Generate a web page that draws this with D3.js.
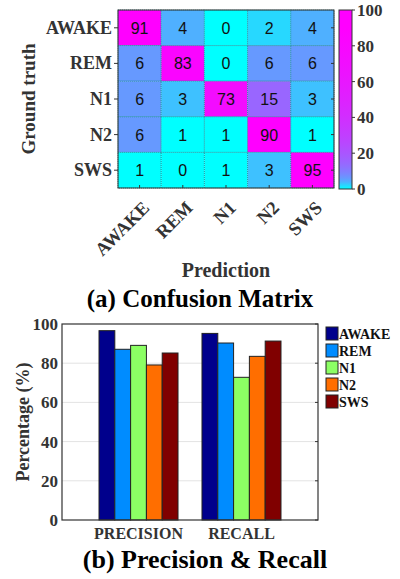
<!DOCTYPE html>
<html>
<head>
<meta charset="utf-8">
<script src="https://cdn.jsdelivr.net/npm/d3@7"></script>
<style>
  body { margin: 0; background: #fff; }
  text { font-family: "Liberation Serif", "Times New Roman", serif; font-weight: bold; }
</style>
</head>
<body>
<div id="chart"></div>
<script>
// Data
var stages = ["AWAKE", "REM", "N1", "N2", "SWS"];
var confusion = [
  [91, 4, 0, 2, 4],
  [6, 83, 0, 6, 6],
  [6, 3, 73, 15, 3],
  [6, 1, 1, 90, 1],
  [1, 0, 1, 3, 95]
];
var colorTicks = [0, 20, 40, 60, 80, 100];
var metrics = ["PRECISION", "RECALL"];
var precision = [96.6, 87.1, 89.1, 79.1, 85.2];
var recall = [95.2, 90.3, 72.8, 83.5, 91.3];
var barColors = ["#00008c", "#008cff", "#8cff64", "#ff6e00", "#800000"];
var pctTicks = [0, 20, 40, 60, 80, 100];

var svg = d3.select("#chart").append("svg")
  .attr("width", 400).attr("height", 579);

// ---- (a) confusion matrix ----
var cm = { left: 118, top: 10, right: 334, bottom: 188 };
var x = d3.scaleBand().domain(stages).range([cm.left, cm.right]);
var y = d3.scaleBand().domain(stages).range([cm.top, cm.bottom]);

// cool colormap on a log scale (small counts already bluish)
var logT = d3.scaleLog().domain([1, 90]).range([0, 1]).clamp(true);
var color = function(v) {
  var t = v <= 1 ? 0 : logT(v);
  return d3.interpolateRgb("#00ffff", "#ff00ff")(t);
};

var cells = [];
confusion.forEach(function(row, i) {
  row.forEach(function(v, j) { cells.push({ r: stages[i], c: stages[j], v: v }); });
});

var gm = svg.append("g");
gm.selectAll("rect.cell").data(cells).enter().append("rect")
  .attr("class", "cell")
  .attr("x", function(d) { return x(d.c); })
  .attr("y", function(d) { return y(d.r); })
  .attr("width", x.bandwidth())
  .attr("height", y.bandwidth())
  .attr("fill", function(d) { return color(d.v); })
  .attr("stroke", "#1f8f9a")
  .attr("stroke-width", 0.8)
  .attr("stroke-dasharray", "1,1");

gm.selectAll("text.val").data(cells).enter().append("text")
  .attr("class", "val")
  .attr("x", function(d) { return x(d.c) + x.bandwidth() / 2; })
  .attr("y", function(d) { return y(d.r) + y.bandwidth() / 2 + 6; })
  .attr("text-anchor", "middle")
  .style("font-family", "'Liberation Sans', Arial, sans-serif")
  .style("font-weight", "normal")
  .style("font-size", "16px")
  .attr("fill", "#111")
  .text(function(d) { return d.v; });

gm.append("rect")
  .attr("x", cm.left).attr("y", cm.top)
  .attr("width", cm.right - cm.left).attr("height", cm.bottom - cm.top)
  .attr("fill", "none").attr("stroke", "#333").attr("stroke-width", 1);

// tick marks
stages.forEach(function(s) {
  var cy = y(s) + y.bandwidth() / 2, cx = x(s) + x.bandwidth() / 2;
  gm.append("line").attr("x1", cm.left - 4).attr("x2", cm.left).attr("y1", cy).attr("y2", cy).attr("stroke", "#333");
  gm.append("line").attr("x1", cm.right - 3).attr("x2", cm.right).attr("y1", cy).attr("y2", cy).attr("stroke", "#333");
  gm.append("line").attr("x1", cx).attr("x2", cx).attr("y1", cm.bottom).attr("y2", cm.bottom - 3).attr("stroke", "#333");
});

// y labels
gm.selectAll("text.ylab").data(stages).enter().append("text")
  .attr("class", "ylab")
  .attr("x", cm.left - 6)
  .attr("y", function(d) { return y(d) + y.bandwidth() / 2 + 6; })
  .attr("text-anchor", "end")
  .style("font-size", "18px")
  .attr("fill", "#333")
  .text(function(d) { return d; });

// x labels rotated
gm.selectAll("text.xlab").data(stages).enter().append("text")
  .attr("class", "xlab")
  .attr("transform", function(d) {
    return "translate(" + (x(d) + x.bandwidth() / 2 + 11) + "," + (cm.bottom + 21) + ") rotate(-45)";
  })
  .attr("text-anchor", "end")
  .style("font-size", "18.5px")
  .attr("fill", "#333")
  .text(function(d) { return d; });

gm.append("text")
  .attr("transform", "translate(35," + ((cm.top + cm.bottom) / 2) + ") rotate(-90)")
  .attr("text-anchor", "middle")
  .style("font-size", "19px")
  .attr("fill", "#333")
  .text("Ground truth");

gm.append("text")
  .attr("x", (cm.left + cm.right) / 2).attr("y", 277)
  .attr("text-anchor", "middle")
  .style("font-size", "20px")
  .attr("fill", "#333")
  .text("Prediction");

// colorbar
var cb = { x: 339, w: 13 };
var cbY = d3.scaleLinear().domain([0, 100]).range([cm.bottom + 1, cm.top]);
var grad = svg.append("defs").append("linearGradient")
  .attr("id", "cbgrad").attr("x1", 0).attr("x2", 0).attr("y1", 1).attr("y2", 0);
d3.range(0, 101, 2).forEach(function(v) {
  grad.append("stop").attr("offset", v / 100).attr("stop-color", color(v));
});
gm.append("rect")
  .attr("x", cb.x).attr("y", cbY(100))
  .attr("width", cb.w).attr("height", cbY(0) - cbY(100))
  .attr("fill", "url(#cbgrad)").attr("stroke", "#333");
gm.selectAll("line.cbt").data(colorTicks).enter().append("line")
  .attr("x1", cb.x + cb.w).attr("x2", cb.x + cb.w + 3)
  .attr("y1", function(d) { return cbY(d); }).attr("y2", function(d) { return cbY(d); })
  .attr("stroke", "#333");
gm.selectAll("text.cbl").data(colorTicks).enter().append("text")
  .attr("x", cb.x + cb.w + 5)
  .attr("y", function(d) { return cbY(d) + 6; })
  .style("font-size", "17px")
  .attr("fill", "#333")
  .text(function(d) { return d; });

svg.append("text")
  .attr("x", 200).attr("y", 307)
  .attr("text-anchor", "middle")
  .style("font-size", "25px")
  .attr("fill", "#000")
  .text("(a) Confusion Matrix");

// ---- (b) precision & recall ----
var bp = { left: 62, top: 324, right: 318, bottom: 520 };
var gb = svg.append("g");
var yb = d3.scaleLinear().domain([0, 100]).range([bp.bottom, bp.top]);
var xg = d3.scalePoint().domain(metrics).range([bp.left, bp.right]).padding(0.743);
var xs = d3.scaleBand().domain(stages).range([-39.5, 39.5]);

// grid
gb.selectAll("line.grid").data(pctTicks.slice(1, -1)).enter().append("line")
  .attr("x1", bp.left).attr("x2", bp.right)
  .attr("y1", function(d) { return yb(d); }).attr("y2", function(d) { return yb(d); })
  .attr("stroke", "#e3e3e3").attr("stroke-width", 1);

var series = [precision, recall];
var bars = [];
metrics.forEach(function(m, i) {
  stages.forEach(function(s, j) { bars.push({ m: m, s: s, v: series[i][j], c: barColors[j] }); });
});
gb.selectAll("rect.bar").data(bars).enter().append("rect")
  .attr("class", "bar")
  .attr("x", function(d) { return xg(d.m) + xs(d.s); })
  .attr("y", function(d) { return yb(d.v); })
  .attr("width", xs.bandwidth())
  .attr("height", function(d) { return yb(0) - yb(d.v); })
  .attr("fill", function(d) { return d.c; })
  .attr("stroke", "#222").attr("stroke-width", 1);

gb.append("rect")
  .attr("x", bp.left).attr("y", bp.top)
  .attr("width", bp.right - bp.left).attr("height", bp.bottom - bp.top)
  .attr("fill", "none").attr("stroke", "#333").attr("stroke-width", 1.2);

gb.selectAll("line.yt").data(pctTicks).enter().append("line")
  .attr("x1", bp.right - 3).attr("x2", bp.right)
  .attr("y1", function(d) { return yb(d); }).attr("y2", function(d) { return yb(d); })
  .attr("stroke", "#333");

gb.selectAll("text.yl").data(pctTicks).enter().append("text")
  .attr("x", bp.left - 4)
  .attr("y", function(d) { return yb(d) + 6; })
  .attr("text-anchor", "end")
  .style("font-size", "17px")
  .attr("fill", "#333")
  .text(function(d) { return d; });

gb.selectAll("text.xl").data(metrics).enter().append("text")
  .attr("x", function(d) { return xg(d); })
  .attr("y", 539)
  .attr("text-anchor", "middle")
  .style("font-size", "16px")
  .attr("fill", "#333")
  .text(function(d) { return d; });

gb.append("text")
  .attr("transform", "translate(29," + ((bp.top + bp.bottom) / 2) + ") rotate(-90)")
  .attr("text-anchor", "middle")
  .style("font-size", "18px")
  .attr("fill", "#333")
  .text("Percentage (%)");

// legend
var lg = gb.selectAll("g.leg").data(stages).enter().append("g")
  .attr("transform", function(d, i) { return "translate(326," + (327 + i * 17) + ")"; });
lg.append("rect").attr("width", 12).attr("height", 13)
  .attr("fill", function(d, i) { return barColors[i]; })
  .attr("stroke", "#222");
lg.append("text").attr("x", 13).attr("y", 12)
  .style("font-size", "14px")
  .attr("fill", "#111")
  .text(function(d) { return d; });

svg.append("text")
  .attr("x", 205).attr("y", 568)
  .attr("text-anchor", "middle")
  .style("font-size", "26px")
  .attr("fill", "#000")
  .text("(b) Precision & Recall");
</script>
</body>
</html>
